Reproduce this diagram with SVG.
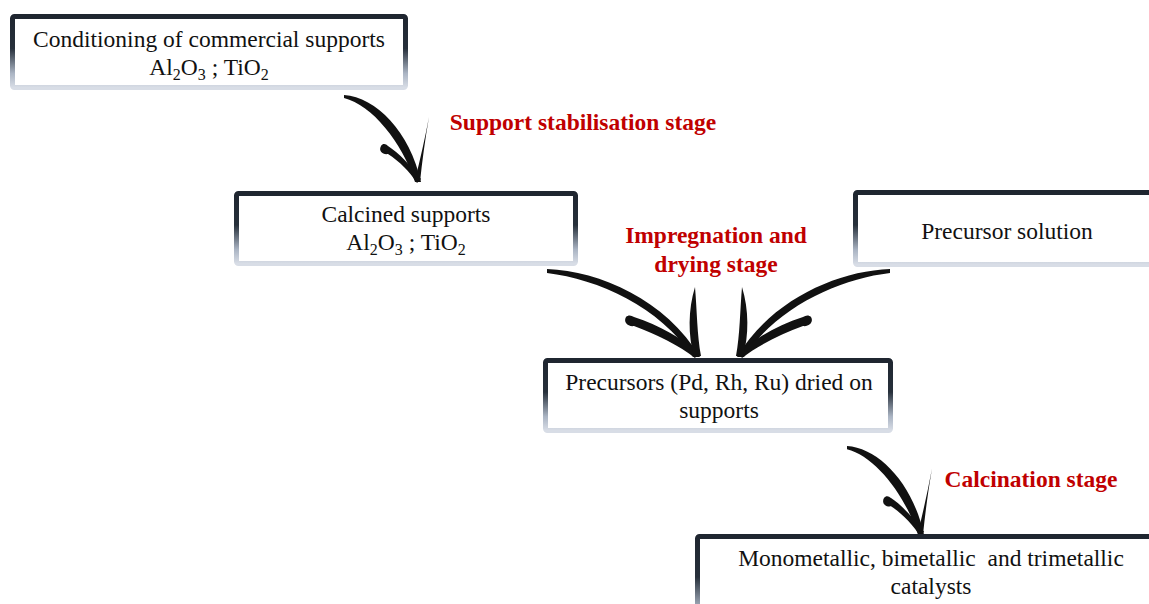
<svg xmlns="http://www.w3.org/2000/svg" width="1149" height="604" viewBox="0 0 1149 604">
<defs>
<linearGradient id="bord" x1="0" y1="0" x2="0" y2="1">
<stop offset="0" stop-color="#1f2630"/>
<stop offset="0.45" stop-color="#27303b"/>
<stop offset="0.8" stop-color="#aab4c3"/>
<stop offset="1" stop-color="#d8dde6"/>
</linearGradient>
<g id="arrowA">
<path d="M4,5 C36,7 70,42 81,92 L75,92 C62,52 32,15 4,8 Z"/>
<path d="M41,56 C38,61 43,65 48,64 C59,71 70,82 77,93 L81,89 C71,76 59,63 48,56 C46,54 43,53 41,56 Z"/>
<path d="M89,27 C85,50 82,72 80,92 L75,90 C80,70 85,48 89,27 Z"/>
</g>
<g id="arrowB">
<path d="M547,269 C600,271 666,300 700,357 L693,357 C660,307 598,279 547,273 Z"/>
<path d="M626,317 C623,322 628,327 634,326 C656,334 680,346 695,358 L699,353 C683,339 659,325 634,317 C631,315 628,315 626,317 Z"/>
<path d="M695,287 C688,310 688,335 694,357 L701,356 C697,335 697,310 695,287 Z"/>
</g>
</defs>
<style>
.box{fill:#ffffff;stroke:url(#bord);stroke-width:5}
.t{font-size:23.5px;fill:#111111;text-anchor:middle}
.lbl{font-size:23.5px;font-weight:bold;fill:#c00000;text-anchor:middle}
.sub{font-size:16px}
.arrow{fill:#111111}
</style>
<rect width="1149" height="604" fill="#ffffff"/>
<g id="connectors" class="arrow">
<use href="#arrowA" transform="translate(340,90)"/>
<use href="#arrowB"/>
<use href="#arrowB" transform="translate(1437,0) scale(-1,1)"/>
<use href="#arrowA" transform="translate(843,441) scale(1,1.02)"/>
</g>
<g font-family="'Liberation Serif', Tinos, 'Times New Roman', serif">
<g id="node-conditioning">
<rect class="box" x="12.5" y="16.5" width="393" height="71" rx="2"/>
<text class="t" x="209" y="47">Conditioning of commercial supports</text>
<text class="t" x="209" y="75">Al<tspan class="sub" dy="5">2</tspan><tspan dy="-5">O</tspan><tspan class="sub" dy="5">3</tspan><tspan dy="-5"> ; TiO</tspan><tspan class="sub" dy="5">2</tspan></text>
</g>
<g id="node-calcined">
<rect class="box" x="236.5" y="193.5" width="339" height="70" rx="2"/>
<text class="t" x="406" y="222">Calcined supports</text>
<text class="t" x="406" y="250">Al<tspan class="sub" dy="5">2</tspan><tspan dy="-5">O</tspan><tspan class="sub" dy="5">3</tspan><tspan dy="-5"> ; TiO</tspan><tspan class="sub" dy="5">2</tspan></text>
</g>
<g id="node-precursor-solution">
<rect class="box" x="855.5" y="192.5" width="310" height="72" rx="2"/>
<text class="t" x="1007" y="239">Precursor solution</text>
</g>
<g id="node-dried">
<rect class="box" x="545.5" y="360.5" width="345" height="70" rx="2"/>
<text class="t" x="719" y="390">Precursors (Pd, Rh, Ru) dried on</text>
<text class="t" x="719" y="418">supports</text>
</g>
<g id="node-catalysts">
<rect class="box" x="697.5" y="536.5" width="470" height="90" rx="2"/>
<text class="t" x="931" y="566" xml:space="preserve">Monometallic, bimetallic  and trimetallic</text>
<text class="t" x="931" y="594">catalysts</text>
</g>
<g id="labels">
<text class="lbl" x="583" y="130">Support stabilisation stage</text>
<text class="lbl" x="716" y="243">Impregnation and</text>
<text class="lbl" x="716" y="272">drying stage</text>
<text class="lbl" x="1031" y="487">Calcination stage</text>
</g>
</g>
</svg>
